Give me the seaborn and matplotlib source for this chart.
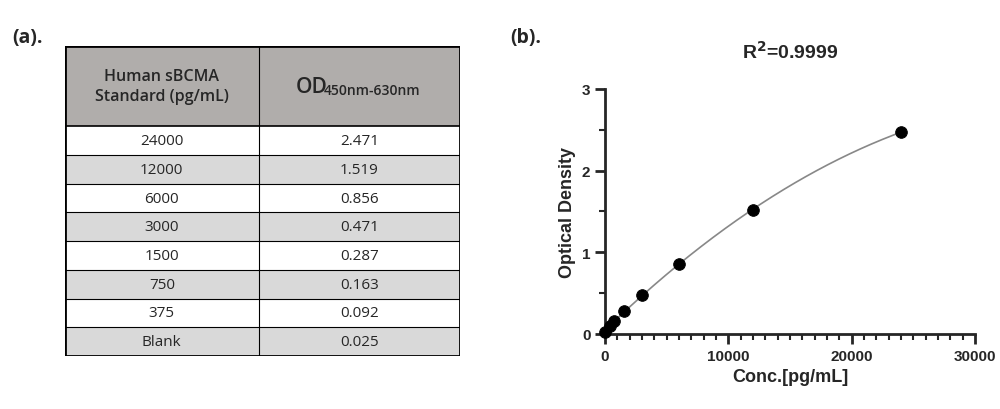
import numpy as np
import matplotlib
matplotlib.use("Agg")
import matplotlib.pyplot as plt
import seaborn as sns
from matplotlib.patches import Rectangle
from matplotlib.ticker import MultipleLocator

conc_labels = ["24000", "12000", "6000", "3000", "1500", "750", "375", "Blank"]
od_labels = ["2.471", "1.519", "0.856", "0.471", "0.287", "0.163", "0.092", "0.025"]
conc = [24000, 12000, 6000, 3000, 1500, 750, 375, 0]
od = [2.471, 1.519, 0.856, 0.471, 0.287, 0.163, 0.092, 0.025]

sns.set_style("white")
plt.rcParams["font.family"] = "Liberation Sans"
TF = "Open Sans"
fig = plt.figure(figsize=(10, 4.1), dpi=100)

# ---- table (a)
fig.text(0.012, 0.895, "(a).", fontsize=14, fontweight="bold", family=TF)
tax = fig.add_axes([0.065, 0.129, 0.395, 0.756])
tax.set_xlim(0, 1); tax.set_ylim(0, 1); tax.axis("off")
hh = 80 / 310
rh = (1 - hh) / 8
split = 0.49
tax.add_patch(Rectangle((0, 1 - hh), 1, hh, fc="#b0adab", ec="none"))
for i in range(8):
    y0 = 1 - hh - (i + 1) * rh
    fc = "white" if i % 2 == 0 else "#d9d9d9"
    tax.add_patch(Rectangle((0, y0), 1, rh, fc=fc, ec="none"))
    tax.plot([0, 1], [y0, y0], color="black", lw=0.8)
    tax.text(split / 2, y0 + rh / 2, conc_labels[i], ha="center", va="center", fontsize=11, family=TF)
    tax.text((1 + split) / 2, y0 + rh / 2, od_labels[i], ha="center", va="center", fontsize=11, family=TF)
tax.plot([0, 1], [1 - hh, 1 - hh], color="black", lw=1.2)
tax.plot([split, split], [0, 1], color="black", lw=0.8)
tax.add_patch(Rectangle((0, 0), 1, 1, fc="none", ec="black", lw=2))
tax.text(split / 2, 1 - hh / 2, "Human sBCMA\nStandard (pg/mL)", ha="center", va="center",
         fontsize=11.5, family=TF, fontweight="semibold", linespacing=1.3)
tax.text(0.585, 1 - hh / 2, "OD", ha="left", va="center", fontsize=15, family=TF, fontweight="semibold")
tax.text(0.655, 1 - hh / 2 - 0.012, "450nm-630nm", ha="left", va="center", fontsize=10, family=TF, fontweight="semibold")

# ---- plot (b)
fig.text(0.51, 0.895, "(b).", fontsize=14, fontweight="bold", family=TF)
ax = fig.add_axes([0.605, 0.183, 0.37, 0.598])
xs = np.array(conc, dtype=float)
ys = np.array(od)
coef = np.polyfit(xs, ys, 2)
xf = np.linspace(0, max(conc), 300)
sns.lineplot(x=xf, y=np.polyval(coef, xf), ax=ax, color="#888888", lw=1.2)
sns.scatterplot(x=xs, y=ys, ax=ax, color="black", s=70, edgecolor="black", zorder=3, clip_on=False)
ax.set_xlim(0, 30000); ax.set_ylim(0, 3)
ax.xaxis.set_major_locator(MultipleLocator(10000))
ax.xaxis.set_minor_locator(MultipleLocator(1000))
ax.yaxis.set_major_locator(MultipleLocator(1))
ax.yaxis.set_minor_locator(MultipleLocator(0.5))
for s in ["top", "right"]:
    ax.spines[s].set_visible(False)
for s in ["left", "bottom"]:
    ax.spines[s].set_linewidth(2)
ax.tick_params(which="major", length=7, width=2, direction="out", bottom=True, left=True, labelsize=11)
ax.tick_params(which="minor", length=4, width=1.5, direction="out", bottom=True, left=True)
for lab in ax.get_xticklabels() + ax.get_yticklabels():
    lab.set_fontweight("bold")
ax.set_xlabel("Conc.[pg/mL]", fontsize=13, fontweight="bold")
ax.set_ylabel("Optical Density", fontsize=13, fontweight="bold")
ax.set_title("R$^\\mathbf{2}$=0.9999", fontsize=14, fontweight="bold", pad=22)
fig.savefig("out.png", dpi=100)
